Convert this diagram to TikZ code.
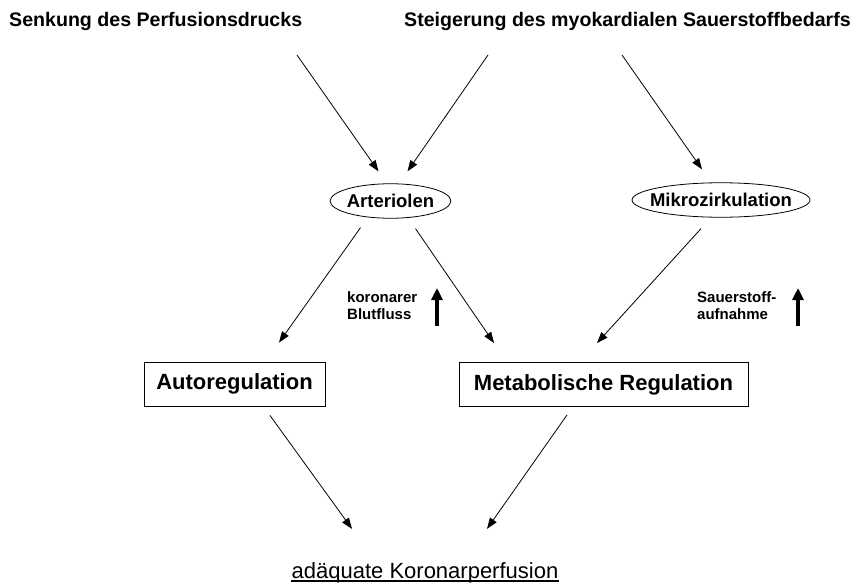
\documentclass[tikz,border=0pt]{standalone}
\usepackage{fontspec}
\setmainfont{Liberation Sans}
\usetikzlibrary{shapes.geometric,arrows.meta,calc}

\tikzset{
  cause/.style={anchor=base, inner sep=0pt, font=\fontsize{19.6}{22}\selectfont\bfseries},
  oval/.style={draw, ellipse, line width=0.8pt, inner ysep=5.4pt, font=\fontsize{18.5}{20}\selectfont\bfseries},
  regbox/.style={draw, line width=0.9pt, minimum height=44pt, inner sep=0pt, font=\fontsize{22}{24}\selectfont\bfseries},
  lbl/.style={align=left, anchor=west, inner sep=0pt, font=\fontsize{15}{17}\selectfont\bfseries},
  arr/.style={-{Triangle[length=11pt,width=8pt]}, line width=0.8pt},
  uparr/.style={-{Triangle[length=12pt,width=11pt]}, line width=4pt},
}

\begin{document}
\begin{tikzpicture}[x=1pt,y=-1pt]
    \useasboundingbox (0,0) rectangle (861,583);

    % Causes
    \node[cause, anchor=base west] (senk) at (9,26.5) {Senkung des Perfusionsdrucks};
    \node[cause] (steig) at (627.5,26.5) {Steigerung des myokardialen Sauerstoffbedarfs};
    \coordinate (senkout) at (297,55);
    \coordinate (steigout1) at (488,55);
    \coordinate (steigout2) at (622,55);

    % Vessels
    \node[oval, inner xsep=-1pt] (art) at (390.5,201) {Arteriolen};
    \node[oval, inner xsep=-8pt] (mikro) at (721,200) {Mikrozirkulation};

    \draw[arr] (senkout) -- ($(art.north)+(-12,-12)$);
    \draw[arr] (steigout1) -- ($(art.north)+(17,-12)$);
    \draw[arr] (steigout2) -- ($(mikro.north)+(-19,-13)$);

    % Regulation
    \node[regbox, minimum width=181pt] (auto) at (234.5,384) {Autoregulation};
    \node[regbox, minimum width=289pt] (meta) at (603.5,384.5) {Metabolische Regulation};

    \draw[arr] ($(art.south)+(-30,9)$) -- ($(auto.north)+(44.5,-19)$);
    \draw[arr] ($(art.south)+(25,10)$) -- ($(meta.north)+(-109.5,-19)$);
    \draw[arr] ($(mikro.south)+(-20,11)$) -- ($(meta.north)+(-6.5,-19)$);

    % Effects
    \node[lbl] (flow) at (347,306) {koronarer\\Blutfluss};
    \draw[uparr] (437,326) -- (437,288);
    \node[lbl] (o2) at (697,306) {Sauerstoff-\\aufnahme};
    \draw[uparr] (798,326) -- (798,288);

    % Result
    \node[anchor=base, inner sep=0pt, font=\fontsize{22}{24}\selectfont] (koro) at (425,578) {adäquate Koronarperfusion};
    \draw[line width=1.2pt] ($(koro.base west)+(0,3)$) -- ($(koro.base east)+(0,3)$);

    \draw[arr] ($(auto.south)+(35.5,9)$) -- ($(koro.north)+(-73,-33)$);
    \draw[arr] ($(meta.south)+(-36.5,8)$) -- ($(koro.north)+(62,-33)$);
\end{tikzpicture}
\end{document}
